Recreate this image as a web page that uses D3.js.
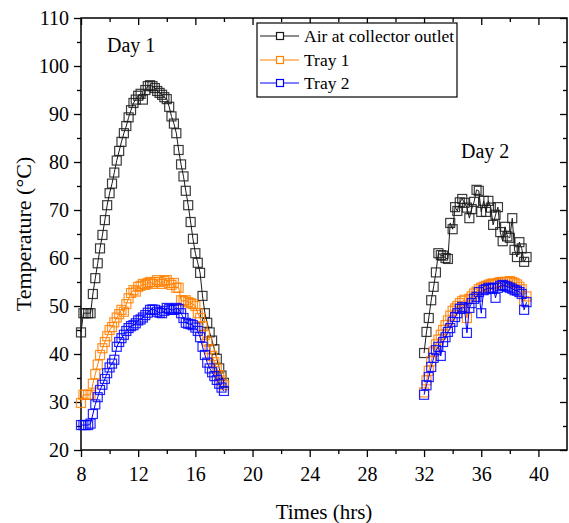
<!DOCTYPE html>
<html>
<head>
<meta charset="utf-8">
<script src="https://cdn.jsdelivr.net/npm/d3@7"></script>
<style>
  body { margin: 0; background: #fff; }
  svg { font-family: "Liberation Serif", "Times New Roman", serif; }
</style>
</head>
<body>
<div id="container"></div>
<script>
/* DATA (10 min steps) */
const day1Times = [
  8.00, 8.17, 8.33, 8.50, 8.67, 8.83,
  9.00, 9.17, 9.33, 9.50, 9.67, 9.83,
  10.00, 10.17, 10.33, 10.50, 10.67, 10.83,
  11.00, 11.17, 11.33, 11.50, 11.67, 11.83,
  12.00, 12.17, 12.33, 12.50, 12.67, 12.83,
  13.00, 13.17, 13.33, 13.50, 13.67, 13.83,
  14.00, 14.17, 14.33, 14.50, 14.67, 14.83,
  15.00, 15.17, 15.33, 15.50, 15.67, 15.83,
  16.00, 16.17, 16.33, 16.50, 16.67, 16.83,
  17.00, 17.17, 17.33, 17.50, 17.67, 17.83,
  18.00
];
const day2Times = [
  32.00, 32.17, 32.33, 32.50, 32.67, 32.83,
  33.00, 33.17, 33.33, 33.50, 33.67, 33.83,
  34.00, 34.17, 34.33, 34.50, 34.67, 34.83,
  35.00, 35.17, 35.33, 35.50, 35.67, 35.83,
  36.00, 36.17, 36.33, 36.50, 36.67, 36.83,
  37.00, 37.17, 37.33, 37.50, 37.67, 37.83,
  38.00, 38.17, 38.33, 38.50, 38.67, 38.83,
  39.00, 39.17
];

const airDay1 = [
  44.5, 48.5, 48.5, 48.5, 48.5, 52.5, 55.8, 58.9, 62.0, 64.8,
  67.9, 71.0, 73.5, 75.5, 77.8, 80.3, 82.3, 84.2, 86.0, 87.5,
  89.3, 90.8, 92.3, 93.0, 93.8, 94.2, 93.0, 95.0, 95.8, 96.0,
  95.8, 95.4, 94.8, 94.4, 94.0, 93.5, 93.1, 91.5, 89.5, 88.0,
  86.0, 82.5, 79.5, 77.0, 74.0, 71.0, 67.5, 64.0, 61.0, 59.0,
  56.9, 52.1, 48.5, 46.5, 44.5, 42.8, 41.0, 39.0, 37.0, 35.5,
  34.0
];
const tray1Day1 = [
  29.8, 31.5, 31.5, 31.5, 31.5, 33.8, 35.8, 37.8, 39.8, 41.2,
  42.5, 43.7, 45.0, 45.6, 46.6, 47.6, 48.3, 49.2, 48.8, 50.4,
  51.6, 52.7, 53.3, 53.0, 54.0, 54.2, 54.6, 54.4, 54.8, 55.0,
  54.6, 55.0, 55.4, 55.0, 54.6, 55.2, 55.4, 54.8, 54.4, 54.8,
  53.8, 53.8, 51.2, 51.0, 51.2, 50.8, 50.6, 50.4, 50.0, 48.5,
  47.5, 45.8, 44.0, 42.6, 41.0, 39.6, 38.3, 37.0, 35.6, 34.5,
  33.5
];
const tray2Day1 = [
  25.2, 25.2, 25.2, 25.2, 25.5, 27.5, 29.5, 31.0, 32.5, 33.6,
  34.8, 36.0, 37.2, 38.0, 38.8, 41.5, 42.5, 43.3, 44.0, 44.8,
  45.4, 45.8, 46.0, 46.4, 47.0, 47.2, 47.6, 48.1, 48.6, 49.2,
  49.3, 49.2, 48.8, 48.6, 48.5, 49.0, 49.6, 49.4, 49.2, 49.2,
  49.6, 49.4, 48.5, 47.5, 46.5, 46.3, 46.2, 46.0, 45.5, 44.8,
  43.5, 41.5, 39.8, 38.2, 37.0, 36.2, 35.4, 34.6, 33.8, 33.0,
  32.3
];

const airDay2 = [
  40.2, 44.6, 47.5, 51.2, 54.0, 57.0, 61.0, 60.6, 60.5, 60.0,
  59.8, 67.3, 66.0, 70.6, 69.8, 71.6, 72.3, 71.5, 70.5, 68.3,
  70.2, 71.7, 74.2, 74.0, 69.6, 71.9, 69.6, 71.9, 70.5, 66.9,
  69.0, 70.6, 65.4, 63.5, 66.5, 64.5, 64.2, 68.3, 61.7, 60.2,
  63.3, 62.0, 59.2, 60.2
];
const tray1Day2 = [
  32.0, 34.5, 36.5, 38.5, 40.5, 42.0, 43.0, 44.0, 45.0, 46.0,
  47.0, 48.0, 49.0, 49.5, 50.0, 50.6, 51.0, 51.3, 47.5, 51.5,
  52.0, 52.6, 53.0, 53.5, 53.8, 54.0, 54.2, 54.4, 54.6, 54.7,
  54.5, 54.8, 55.0, 55.0, 55.0, 55.0, 55.2, 55.0, 54.8, 54.5,
  54.0, 53.5, 51.0, 52.0
];
const tray2Day2 = [
  31.5, 33.5, 35.2, 37.3, 39.2, 40.8, 41.5, 39.6, 42.5, 43.5,
  44.6, 45.4, 46.7, 47.7, 48.5, 49.4, 49.8, 49.5, 44.4, 49.6,
  50.6, 51.5, 51.9, 52.9, 48.5, 53.3, 53.5, 53.8, 53.6, 53.8,
  51.7, 53.8, 54.2, 54.4, 54.2, 54.0, 53.8, 53.6, 53.3, 53.2,
  52.9, 52.5, 49.2, 50.8
];

const seriesNames = ["Air at collector outlet", "Tray 1", "Tray 2"];
const seriesColors = ["#1a1a1a", "#ff8000", "#0000ff"];
const xTicks = [8, 12, 16, 20, 24, 28, 32, 36, 40];
const xMinor = [10, 14, 18, 22, 26, 30, 34, 38];
const yTicks = [20, 30, 40, 50, 60, 70, 80, 90, 100, 110];
const yMinor = [25, 35, 45, 55, 65, 75, 85, 95, 105];

/* CONSTANTS */
const width = 569, height = 523;
const margin = { top: 18, right: 2, bottom: 73, left: 81 };
const markSize = 9;

const series = [
  { name: seriesNames[0], color: seriesColors[0], days: [[day1Times, airDay1], [day2Times, airDay2]] },
  { name: seriesNames[1], color: seriesColors[1], days: [[day1Times, tray1Day1], [day2Times, tray1Day2]] },
  { name: seriesNames[2], color: seriesColors[2], days: [[day1Times, tray2Day1], [day2Times, tray2Day2]] }
];

/* SCALES */
const xScale = d3.scaleLinear()
  .domain([8, 42])
  .range([margin.left, width - margin.right]);

const yScale = d3.scaleLinear()
  .domain([20, 110])
  .range([height - margin.bottom, margin.top]);

const svg = d3.select("#container")
  .append("svg")
  .attr("width", width)
  .attr("height", height);

const x0 = margin.left, x1 = width - margin.right;
const y0 = height - margin.bottom, y1 = margin.top;

// axes
function styleAxis(g) {
  g.select(".domain").remove();
  g.selectAll("line").attr("stroke", "#000").attr("stroke-width", 1.3);
  g.selectAll("text")
    .attr("fill", "#000")
    .style("font-family", '"Liberation Serif", serif')
    .style("font-size", "20px");
}

svg.append("g")
  .attr("transform", `translate(0,${y0})`)
  .call(d3.axisBottom(xScale).tickValues(xTicks).tickSize(7).tickPadding(10).tickFormat(d3.format("d")))
  .call(styleAxis);
svg.append("g")
  .attr("transform", `translate(0,${y0})`)
  .call(d3.axisBottom(xScale).tickValues(xMinor).tickSize(4).tickFormat(""))
  .call(styleAxis);
svg.append("g")
  .attr("transform", `translate(0,${y1})`)
  .call(d3.axisTop(xScale).tickValues(xTicks).tickSize(-7).tickFormat(""))
  .call(styleAxis);
svg.append("g")
  .attr("transform", `translate(0,${y1})`)
  .call(d3.axisTop(xScale).tickValues(xMinor).tickSize(-4).tickFormat(""))
  .call(styleAxis);

svg.append("g")
  .attr("transform", `translate(${x0},0)`)
  .call(d3.axisLeft(yScale).tickValues(yTicks).tickSize(7).tickPadding(5).tickFormat(d3.format("d")))
  .call(styleAxis);
svg.append("g")
  .attr("transform", `translate(${x0},0)`)
  .call(d3.axisLeft(yScale).tickValues(yMinor).tickSize(4).tickFormat(""))
  .call(styleAxis);
svg.append("g")
  .attr("transform", `translate(${x1},0)`)
  .call(d3.axisRight(yScale).tickValues(yTicks).tickSize(-7).tickFormat(""))
  .call(styleAxis);
svg.append("g")
  .attr("transform", `translate(${x1},0)`)
  .call(d3.axisRight(yScale).tickValues(yMinor).tickSize(-4).tickFormat(""))
  .call(styleAxis);

// frame
svg.append("rect")
  .attr("x", x0).attr("y", y1)
  .attr("width", x1 - x0).attr("height", y0 - y1)
  .attr("fill", "none")
  .attr("stroke", "#000")
  .attr("stroke-width", 1.5);

// labels
svg.append("text")
  .attr("x", (x0 + x1) / 2)
  .attr("y", 519)
  .attr("text-anchor", "middle")
  .style("font-size", "21px")
  .text("Times (hrs)");

svg.append("text")
  .attr("transform", `translate(31,${(y0 + y1) / 2}) rotate(-90)`)
  .attr("text-anchor", "middle")
  .style("font-size", "22px")
  .text("Temperature (°C)");

svg.append("text")
  .attr("x", 107).attr("y", 52)
  .style("font-size", "20px")
  .text("Day 1");
svg.append("text")
  .attr("x", 461).attr("y", 158)
  .style("font-size", "20px")
  .text("Day 2");

// lines + markers
const line = d3.line()
  .x(d => xScale(d[0]))
  .y(d => yScale(d[1]));

series.forEach(s => {
  const g = svg.append("g");
  s.days.forEach(([times, vals]) => {
    const pts = times.map((t, i) => [t, vals[i]]);
    g.append("path")
      .datum(pts)
      .attr("d", line)
      .attr("fill", "none")
      .attr("stroke", s.color)
      .attr("stroke-width", 1);
    g.selectAll(null)
      .data(pts)
      .join("rect")
      .attr("x", d => xScale(d[0]) - markSize / 2)
      .attr("y", d => yScale(d[1]) - markSize / 2)
      .attr("width", markSize)
      .attr("height", markSize)
      .attr("fill", "none")
      .attr("stroke", s.color)
      .attr("stroke-width", 1.2)
      .attr("stroke-opacity", 0.85);
  });
});

// legend
const legend = svg.append("g");
legend.append("rect")
  .attr("x", 257).attr("y", 23)
  .attr("width", 200).attr("height", 74)
  .attr("fill", "#fff")
  .attr("stroke", "#000")
  .attr("stroke-width", 1.2);

const rowY = [36, 60, 83];
series.forEach((s, i) => {
  const r = legend.append("g").attr("transform", `translate(0,${rowY[i]})`);
  r.append("line")
    .attr("x1", 260).attr("x2", 299)
    .attr("y1", 0).attr("y2", 0)
    .attr("stroke", s.color).attr("stroke-width", 1);
  r.append("rect")
    .attr("x", 276.5).attr("y", -3.5)
    .attr("width", 7).attr("height", 7)
    .attr("fill", "#fff")
    .attr("stroke", s.color).attr("stroke-width", 1.2);
  r.append("text")
    .attr("x", 304).attr("y", 6)
    .style("font-size", "17.5px")
    .text(s.name);
});
</script>
</body>
</html>
